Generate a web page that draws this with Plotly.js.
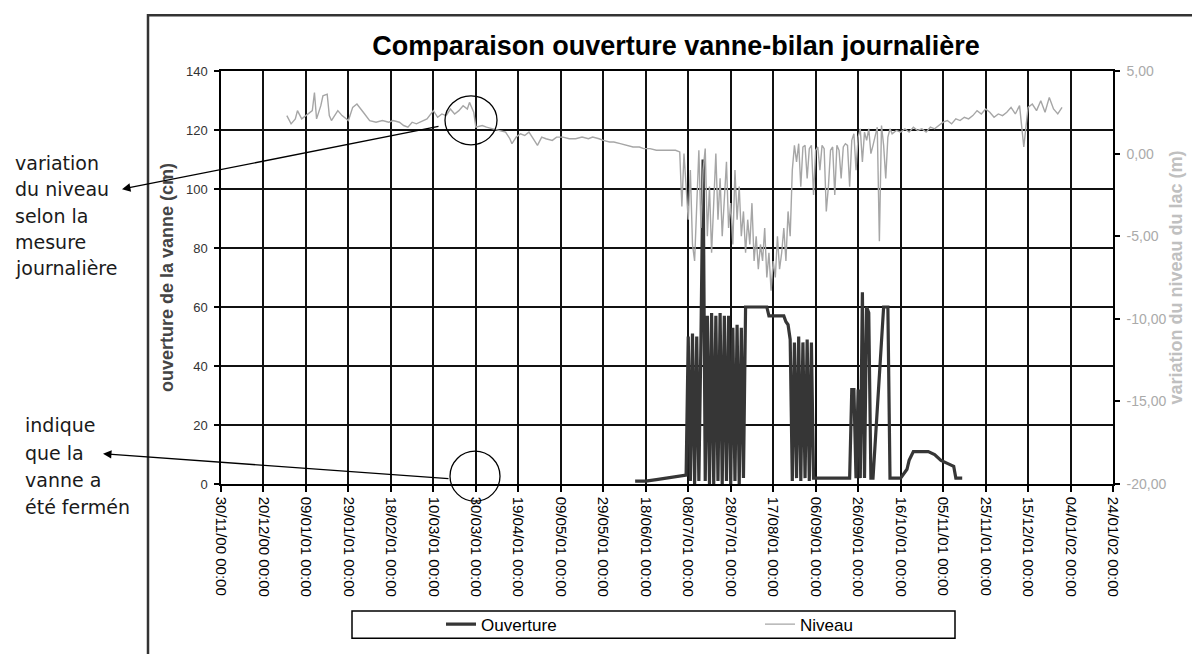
<!DOCTYPE html>
<html>
<head>
<meta charset="utf-8">
<script src="https://cdn.plot.ly/plotly-3.0.1.min.js"></script>
<style>html,body{margin:0;padding:0;background:#fff}#chart{width:1192px;height:654px}</style>
</head>
<body>
<div id="chart"></div>
<script>
// ---- data ----
const baseDate = '2000-11-30';
const tickDates = ['2000-11-30','2000-12-20','2001-01-09','2001-01-29','2001-02-18','2001-03-10','2001-03-30','2001-04-19','2001-05-09','2001-05-29','2001-06-18','2001-07-08','2001-07-28','2001-08-17','2001-09-06','2001-09-26','2001-10-16','2001-11-05','2001-11-25','2001-12-15','2002-01-04','2002-01-24'];
const tickLabels = ['30/11/00 00:00','20/12/00 00:00','09/01/01 00:00','29/01/01 00:00','18/02/01 00:00','10/03/01 00:00','30/03/01 00:00','19/04/01 00:00','09/05/01 00:00','29/05/01 00:00','18/06/01 00:00','08/07/01 00:00','28/07/01 00:00','17/08/01 00:00','06/09/01 00:00','26/09/01 00:00','16/10/01 00:00','05/11/01 00:00','25/11/01 00:00','15/12/01 00:00','04/01/02 00:00','24/01/02 00:00'];
const rightTickVals = [5,0,-5,-10,-15,-20];
const rightTickText = ['5,00','0,00','-5,00','-10,00','-15,00','-20,00'];

// days after 30/11/00
const ouvDays = [195,200,205,210,215,219,220,221,222,223,224,225,226,227,228,229,230,231,232,233,234,235,236,237,238,239,240,241,242,243,244,245,246,247,250,254,257,258,262,265,266,267,268,269,270,271,272,273,274,275,276,277,278,279,280,285,290,296,297,298,299,300,301,302,303,304,305,306,307,312,313,314,315,316,320,323,324,326,329,333,336,339,342,345,346,349];
const ouvVals = [1,1,1.5,2,2.5,3,50,1,51,0,50,1,50,110,1,57,0,58,0,57,1,58,0,57,1,57,0,53,1,54,0,53,2,60,60,60,60,57,57,57,55,54,49,1,48,2,50,1,48,2,49,1,48,2,2,2,2,2,32,32,2,32,2,65,2,60,58,2,2,60,60,60,2,2,2,5,8,11,11,11,10,8,7,6,2,2];

const nivDays = [31,33,35,36,38,41,43,44,45,47,48,50,51,52,55,57,60,62,64,67,70,73,76,79,81,84,86,88,90,92,95,97,100,102,104,106,108,110,112,114,116,117,119,120,123,125,128,131,134,136,137,139,141,143,145,147,149,151,153,156,158,161,164,167,170,173,175,178,180,183,185,188,191,194,197,199,202,205,208,211,214,216,217,218,219,220,221,222,223,224,225,226,227,228,229,230,231,232,233,234,235,236,237,238,239,240,241,242,243,244,245,246,247,248,249,250,251,252,253,254,255,256,257,258,259,260,261,262,263,264,265,266,267,268,269,270,271,272,273,274,275,276,277,278,279,280,281,282,283,284,285,286,287,288,289,290,291,292,293,294,295,296,297,298,299,300,301,302,303,304,305,306,307,308,309,310,311,312,313,314,315,316,318,320,322,324,326,328,330,332,334,336,338,340,342,344,346,348,350,352,354,356,358,360,362,364,366,368,370,372,374,376,378,379,380,382,384,386,388,390,392,394,396];
const nivVals = [2.3,1.8,2.1,2.6,2.1,2.4,2.6,3.7,2.1,2.9,3.5,3.6,2.3,2.0,2.6,2.3,2.0,2.8,3.0,2.5,2.0,1.9,2.0,1.9,2.0,1.9,1.7,1.6,1.9,1.8,2.0,2.1,2.6,2.2,2.4,2.3,2.7,2.4,2.6,2.9,2.7,3.1,2.5,1.6,1.7,1.6,1.5,1.4,1.3,0.9,0.6,1.0,1.2,1.1,1.3,0.9,0.5,1.0,0.9,0.8,1.0,1.0,0.9,0.9,1.0,0.9,1.0,0.9,0.8,0.7,0.7,0.6,0.5,0.4,0.4,0.3,0.3,0.2,0.2,0.2,0.2,0.1,-3.2,0.0,-2.0,-4.0,-1.0,-5.5,-6.5,-3.0,0.2,-4.5,-1.0,0.3,-5.0,-2.0,-6.0,-3.0,0.0,-4.0,-1.5,-5.0,-2.5,-0.5,-4.5,-3.0,-5.5,-1.0,-4.0,-2.0,-5.0,-3.5,-6.0,-4.0,-5.5,-3.0,-6.5,-5.0,-7.0,-5.5,-6.5,-4.5,-7.5,-6.0,-8.3,-6.5,-7.5,-5.0,-7.0,-6.0,-4.5,-6.5,-3.5,-5.0,-1.0,0.5,-0.5,0.6,-2.0,0.4,0.5,-1.5,0.3,0.5,-2.5,0.2,0.4,-1.0,0.5,0.3,-3.5,-2.0,0.2,0.4,-2.5,0.5,0.2,-1.5,0.4,0.6,0.5,-2.0,0.8,1.2,-1.0,1.0,1.5,-0.5,1.3,0.8,1.5,0.0,0.5,1.0,1.6,-5.3,1.7,0.5,-1.5,1.0,1.5,1.2,1.4,1.3,1.5,1.3,1.6,1.4,1.5,1.3,1.6,1.5,1.7,1.9,2.0,1.8,2.1,2.0,2.2,2.1,2.3,2.6,2.4,2.7,2.5,2.2,2.4,2.3,2.5,2.8,2.4,2.9,0.4,1.5,2.8,3.0,2.6,3.2,2.5,3.4,2.7,2.4,2.8];

const leftNoteLines = ['variation','du niveau','selon la','mesure','journalière'];
const bottomNoteLines = ['indique','que la','vanne a','été fermén'];

// ---- helpers ----
const base = Date.parse(baseDate + 'T00:00:00Z');
const toDate = d => new Date(base + d * 86400000).toISOString().slice(0, 10);
const L = 221, R = 1113, T = 71, B = 494, W = R - L, H = B - T;
const px = p => (p - L) / W;
const py = p => (B - p) / H;

const FONT = 'Liberation Sans, Arial, sans-serif';

const traces = [
  {x: ouvDays.map(toDate), y: ouvVals, name: 'Ouverture', type: 'scatter', mode: 'lines',
   line: {color: '#363636', width: 3.2}, yaxis: 'y'},
  {x: nivDays.map(toDate), y: nivVals, name: 'Niveau', type: 'scatter', mode: 'lines',
   line: {color: '#a6a6a6', width: 1.4}, yaxis: 'y2'}
];

const annotations = [];
leftNoteLines.forEach((t, i) => annotations.push({text: t, xref: 'paper', yref: 'paper', x: px(13), y: py(165 + i * 27),
  xanchor: 'left', yanchor: 'middle', showarrow: false, font: {family: 'DejaVu Sans, sans-serif', size: 19, color: '#1a1a1a'}}));
bottomNoteLines.forEach((t, i) => annotations.push({text: t, xref: 'paper', yref: 'paper', x: px(23), y: py(434 + i * 28),
  xanchor: 'left', yanchor: 'middle', showarrow: false, font: {family: 'DejaVu Sans, sans-serif', size: 19, color: '#1a1a1a'}}));
annotations.push({text: '', xref: 'paper', yref: 'paper', x: px(122), y: py(192), ax: 318, ay: -63,
  showarrow: true, arrowhead: 2, arrowsize: 1.3, arrowwidth: 1.3, arrowcolor: '#000', standoff: 0, startstandoff: 0});
annotations.push({text: '', xref: 'paper', yref: 'paper', x: px(103), y: py(463), ax: 347, ay: 25,
  showarrow: true, arrowhead: 2, arrowsize: 1.3, arrowwidth: 1.3, arrowcolor: '#000', standoff: 0, startstandoff: 0});

const shapes = [
  {type: 'rect', xref: 'paper', yref: 'paper', x0: px(148), x1: px(1260), y0: py(740), y1: py(14), line: {color: '#333', width: 2.5}},
  {type: 'rect', xref: 'paper', yref: 'paper', x0: px(352), x1: px(955), y0: py(652), y1: py(624), line: {color: '#000', width: 1.5}},
  {type: 'circle', xref: 'paper', yref: 'paper', xsizemode: 'pixel', ysizemode: 'pixel', xanchor: px(471), yanchor: py(121.5),
   x0: -26, x1: 26, y0: -24.5, y1: 24.5, line: {color: '#000', width: 1.3}},
  {type: 'circle', xref: 'paper', yref: 'paper', xsizemode: 'pixel', ysizemode: 'pixel', xanchor: px(475), yanchor: py(486),
   x0: -25, x1: 25, y0: -25, y1: 25, line: {color: '#000', width: 1.3}}
];

const layout = {
  width: 1192, height: 654,
  margin: {l: L, r: 1192 - R, t: T, b: 654 - B, pad: 0},
  paper_bgcolor: '#fff', plot_bgcolor: '#fff',
  separators: ',.',
  font: {family: FONT, color: '#000'},
  title: {text: '<b>Comparaison ouverture vanne-bilan journalière</b>', font: {family: FONT, size: 27, color: '#000'},
          xref: 'paper', x: px(676), xanchor: 'center', yref: 'container', y: 1 - 46 / 654, yanchor: 'middle'},
  xaxis: {type: 'date', range: [tickDates[0], tickDates[tickDates.length - 1]], tickmode: 'array', tickvals: tickDates, ticktext: tickLabels,
          tickangle: 90, tickfont: {family: FONT, size: 15, color: '#000'}, ticks: 'outside', ticklen: 6, tickwidth: 1.5, tickcolor: '#000',
          ticklabelstandoff: 2,
          showline: true, linecolor: '#000', linewidth: 1.5, mirror: true, showgrid: true, gridcolor: '#111', gridwidth: 1.5, zeroline: false},
  yaxis: {range: [0, 140], tickmode: 'linear', tick0: 0, dtick: 20, ticks: 'outside', ticklen: 5, tickwidth: 1.5, tickcolor: '#000',
          showline: true, linecolor: '#000', linewidth: 1.5, showgrid: true, gridcolor: '#111', gridwidth: 1.5, zeroline: false,
          tickfont: {family: FONT, size: 13, color: '#333'}, ticklabelstandoff: 4,
          title: {text: '<b>ouverture de la vanne (cm)</b>', font: {family: FONT, size: 18, color: '#444'}, standoff: 8}},
  yaxis2: {overlaying: 'y', side: 'right', range: [-20, 5], tickmode: 'array', tickvals: rightTickVals, ticktext: rightTickText,
           ticks: 'outside', ticklen: 5, tickwidth: 1.5, tickcolor: '#000', showline: true, linecolor: '#000', linewidth: 1.5,
           showgrid: false, zeroline: false, tickfont: {family: FONT, size: 14, color: '#aaa'}, ticklabelstandoff: 4,
           title: {text: '<b>variation du niveau du lac (m)</b>', font: {family: FONT, size: 18, color: '#c0c0c0'}, standoff: 4}},
  showlegend: true,
  legend: {orientation: 'h', x: px(441), xanchor: 'left', y: py(638), yanchor: 'middle', entrywidth: 274, entrywidthmode: 'pixels',
           bgcolor: 'rgba(0,0,0,0)', borderwidth: 0, font: {family: FONT, size: 17, color: '#000'}},
  shapes: shapes,
  annotations: annotations
};

Plotly.newPlot('chart', traces, layout, {displayModeBar: false, responsive: false});
</script>
</body>
</html>
